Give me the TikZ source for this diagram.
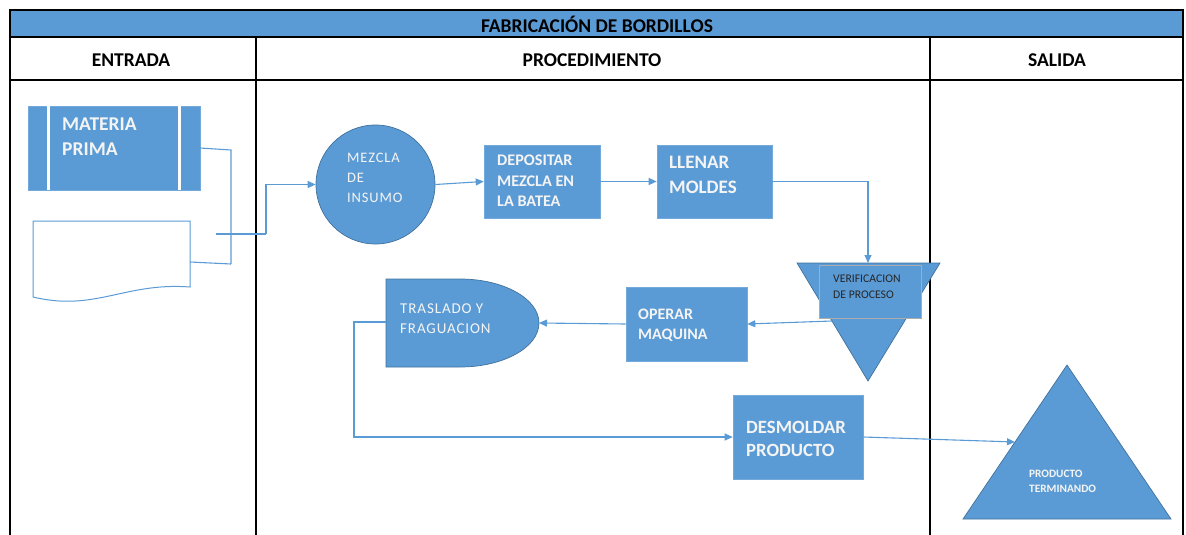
\documentclass[tikz,border=0pt]{standalone}
\usepackage{fontspec}
\setmainfont{Carlito}
\newfontfamily\spacedfont[LetterSpace=6]{Carlito}
\usetikzlibrary{arrows.meta}
\definecolor{fillblue}{HTML}{5B9BD5}
\definecolor{edgeblue}{HTML}{41719C}
\definecolor{lightwhite}{HTML}{F4F4F4}
\begin{document}
\begin{tikzpicture}[x=1pt,y=-1pt,
  gridline/.style={line width=2.6pt, black},
  procbox/.style={rectangle, fill=fillblue, draw=fillblue!85!white, line width=0.6pt, inner sep=0pt},
  shapefill/.style={fill=fillblue, draw=edgeblue, line width=0.7pt},
  conn/.style={draw=fillblue, line width=1.1pt, -{Triangle[length=8pt,width=7pt]}},
  wire/.style={draw=fillblue, line width=1.1pt},
  headtxt/.style={font=\bfseries\fontsize{19.5}{22}\selectfont, text=black, inner sep=0pt},
  boldtxt/.style={text=lightwhite, align=left, inner sep=0pt, anchor=west},
  lighttxt/.style={text=lightwhite, align=left, inner sep=0pt, anchor=west, font=\spacedfont\fontsize{14.5}{20}\selectfont}
]
\useasboundingbox (0,0) rectangle (1186,535);

% ---- table frame ----
\fill[fillblue] (10,10) rectangle (1183,37);
\draw[gridline] (10,535) -- (10,10) -- (1183,10) -- (1183,535);
\draw[gridline] (10,37) -- (1183,37);
\draw[gridline] (10,80) -- (1183,80);
\draw[gridline] (256,37) -- (256,535);
\draw[gridline] (930,37) -- (930,535);

\node[headtxt] (title) at (597,24) {FABRICACIÓN DE BORDILLOS};
\node[headtxt] (hin) at (131,60) {ENTRADA};
\node[headtxt] (hproc) at (592,60) {PROCEDIMIENTO};
\node[headtxt] (hout) at (1057,60) {SALIDA};

% ---- ENTRADA ----
\node[procbox, minimum width=172pt, minimum height=84pt] (mat) at (114,148) {};
\fill[white] (47,106) rectangle (50,190);
\fill[white] (178,106) rectangle (181,190);
\node[boldtxt, font=\bfseries\fontsize{19.5}{25}\selectfont] (matT) at (62,136.5) {MATERIA\\PRIMA};

\draw[draw=fillblue, line width=1pt, fill=white]
  (33,221) -- (190,221) -- (190,287)
  .. controls (125,282) and (95,312) .. (33,297) -- cycle;
\coordinate (docR) at (190,262);
\coordinate (matR) at (200,148);
\coordinate (joinTop) at (231,150);
\coordinate (joinBot) at (231,264);
\coordinate (outStart) at (216,234);

\draw[wire] (matR) -- (joinTop) -- (joinBot);
\draw[wire] (docR) -- (joinBot);

% ---- PROCEDIMIENTO ----
\node[circle, shapefill, minimum size=119pt, inner sep=0pt] (mez) at (375.5,184.5) {};
\node[lighttxt] (mezT) at (347,178) {MEZCLA\\DE\\INSUMO};

\node[procbox, minimum width=116pt, minimum height=73pt] (dep) at (542,181.5) {};
\node[boldtxt, font=\bfseries\fontsize{16.2}{20.5}\selectfont] (depT) at (497,181) {DEPOSITAR\\MEZCLA EN\\LA BATEA};

\node[procbox, minimum width=115pt, minimum height=73pt] (lle) at (714.5,181.5) {};
\node[boldtxt, font=\bfseries\fontsize{19}{25}\selectfont] (lleT) at (669,174.5) {LLENAR\\MOLDES};

\draw[shapefill] (797,263) -- (940,263) -- (868,381) -- cycle;
\coordinate (vtop) at (868,263);
\coordinate (vout) at (832,321);
\node[rectangle, fill=fillblue, draw=gray!65, line width=1pt, minimum width=102pt, minimum height=53pt, inner sep=0pt] (ver) at (870,291.5) {};
\node[boldtxt, text=black!85, font=\fontsize{11.7}{16}\selectfont] (verT) at (833,287) {VERIFICACION\\DE PROCESO};

\node[procbox, minimum width=121pt, minimum height=74pt] (opr) at (686.5,324) {};
\node[boldtxt, font=\bfseries\fontsize{16}{20}\selectfont] (oprT) at (638,325) {OPERAR\\MAQUINA};

\draw[shapefill] (386,279) -- (460,279)
  .. controls (503.6,279) and (539,298.7) .. (539,323)
  .. controls (539,347.3) and (503.6,367) .. (460,367)
  -- (386,367) -- cycle;
\coordinate (trasE) at (539,323);
\coordinate (trasW) at (386,322);
\node[lighttxt, font=\spacedfont\fontsize{15}{20}\selectfont] (trasT) at (400,319) {TRASLADO Y\\FRAGUACION};

\node[procbox, minimum width=130pt, minimum height=84pt] (des) at (798,437) {};
\node[boldtxt, font=\bfseries\fontsize{18.7}{23}\selectfont] (desT) at (746,439) {DESMOLDAR\\PRODUCTO};

% ---- SALIDA ----
\draw[shapefill] (1067,365) -- (1171,519) -- (963,519) -- cycle;
\coordinate (triL) at (1015,442);
\node[boldtxt, font=\bfseries\fontsize{11.3}{15}\selectfont] (prodT) at (1029,481.5) {PRODUCTO\\TERMINANDO};

% ---- connectors ----
\draw[wire] (outStart) -- (266,234);
\draw[conn] (266,234) |- (mez.west);
\draw[conn] (mez.east) -- (dep.west);
\draw[conn] (dep.east) -- (lle.west);
\draw[conn] (lle.east) -| (vtop);
\draw[conn] (vout) -- (opr.east);
\draw[conn] (opr.west) -- (trasE);
\draw[conn] (trasW) -- (354,322) |- (des.west);
\draw[conn] (des.east) -- (triL);
\end{tikzpicture}
\end{document}
